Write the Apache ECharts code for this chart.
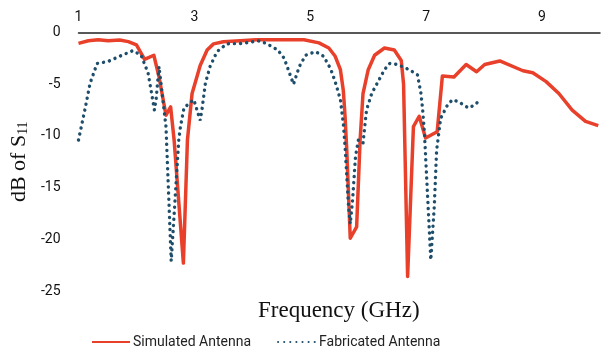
<!DOCTYPE html>
<html>
<head>
<meta charset="utf-8">
<script src="https://cdn.jsdelivr.net/npm/echarts@6/dist/echarts.min.js"></script>
<style>
html, body { margin: 0; padding: 0; background: #fff; }
#chart { width: 603px; height: 352px; }
</style>
</head>
<body>
<div id="chart"></div>
<script>
// Simulated antenna (GHz, dB)
var simFreq = [1.0, 1.17, 1.34, 1.51, 1.71, 1.86, 2.0, 2.14, 2.3, 2.39, 2.51, 2.59, 2.65, 2.81, 2.88, 2.96, 3.1, 3.22, 3.33, 3.5, 3.79, 4.07, 4.47, 4.89, 5.15, 5.32, 5.43, 5.52, 5.57, 5.6, 5.63, 5.69, 5.8, 5.86, 5.91, 6.0, 6.11, 6.28, 6.45, 6.57, 6.61, 6.68, 6.78, 6.88, 6.99, 7.19, 7.28, 7.48, 7.69, 7.87, 8.01, 8.27, 8.67, 8.84, 9.07, 9.29, 9.52, 9.75, 9.97];
var simDb = [-1.05, -0.8, -0.7, -0.8, -0.72, -0.88, -1.2, -2.6, -2.2, -4.3, -8.0, -7.2, -10.4, -22.3, -10.4, -5.9, -3.2, -1.7, -1.1, -0.9, -0.8, -0.7, -0.7, -0.7, -1.0, -1.5, -2.3, -3.6, -5.6, -8.1, -11.4, -19.9, -18.8, -10.4, -5.9, -3.6, -2.2, -1.5, -1.7, -2.7, -5.0, -23.6, -9.1, -8.1, -10.2, -9.6, -4.2, -4.3, -3.1, -3.8, -3.1, -2.75, -3.7, -3.9, -4.75, -5.9, -7.5, -8.6, -9.0];

// Fabricated antenna (GHz, dB)
var fabFreq = [1.0, 1.12, 1.2, 1.32, 1.51, 1.71, 1.94, 2.08, 2.2, 2.28, 2.31, 2.34, 2.39, 2.51, 2.6, 2.73, 2.76, 2.82, 2.9, 2.99, 3.1, 3.13, 3.19, 3.27, 3.39, 3.56, 3.84, 4.1, 4.24, 4.44, 4.55, 4.64, 4.71, 4.81, 4.92, 5.09, 5.23, 5.35, 5.43, 5.52, 5.57, 5.6, 5.66, 5.69, 5.73, 5.78, 5.83, 5.91, 5.97, 6.06, 6.17, 6.28, 6.37, 6.51, 6.71, 6.85, 6.91, 6.94, 6.97, 7.08, 7.14, 7.18, 7.25, 7.36, 7.45, 7.56, 7.73, 7.84, 7.94];
var fabDb = [-10.4, -7.2, -4.9, -3.0, -2.8, -2.3, -1.75, -2.2, -3.9, -6.5, -7.5, -6.4, -3.3, -9.1, -22.1, -10.4, -9.1, -7.3, -6.9, -6.5, -8.5, -7.5, -4.9, -3.3, -1.85, -1.1, -1.05, -0.8, -1.05, -1.7, -2.5, -3.9, -5.0, -3.3, -2.2, -1.85, -2.3, -3.5, -4.75, -6.5, -8.8, -11.0, -16.8, -18.5, -16.2, -12.0, -10.4, -10.7, -7.5, -5.9, -4.75, -3.6, -3.0, -3.1, -3.6, -4.1, -5.9, -7.5, -9.7, -22.0, -16.8, -11.4, -8.3, -7.1, -6.5, -6.7, -7.3, -7.0, -6.45];

var xTicks = [1, 3, 5, 7, 9];
var seriesNames = ['Simulated Antenna', 'Fabricated Antenna'];

function zip(a, b) {
    return a.map(function (v, i) { return [v, b[i]]; });
}

var myChart = echarts.init(document.getElementById('chart'));

var option = {
    animation: false,
    backgroundColor: '#fff',
    grid: { left: 76.5, right: -1.5, top: 32.5, bottom: 61, containLabel: false },
    title: {
        text: 'Frequency (GHz)',
        left: 258,
        top: 299,
        padding: 0,
        textStyle: { fontFamily: 'Liberation Serif', fontSize: 23, fontWeight: 'normal', color: '#111' }
    },
    legend: {
        data: seriesNames,
        bottom: -2,
        left: 86,
        itemWidth: 38,
        itemHeight: 10,
        itemGap: 26,
        itemStyle: { opacity: 0 },
        textStyle: { fontFamily: 'Roboto', fontSize: 14, color: '#222', padding: [0, 0, 0, -2] }
    },
    xAxis: {
        type: 'value',
        position: 'top',
        min: 1,
        max: 10,
        interval: 2,
        axisLine: { show: true, lineStyle: { color: '#222', width: 1.5 } },
        axisTick: { show: false },
        splitLine: { show: false },
        axisLabel: {
            color: '#111',
            fontFamily: 'Roboto',
            fontSize: 14,
            margin: 8,
            formatter: function (v) { return xTicks.indexOf(v) >= 0 ? String(v) : ''; }
        }
    },
    yAxis: {
        type: 'value',
        min: -25,
        max: 0,
        interval: 5,
        name: '{a|dB of S}{b|11}',
        nameLocation: 'middle',
        nameRotate: 90,
        nameGap: 40,
        nameTextStyle: {
            rich: {
                a: { fontFamily: 'Liberation Serif', fontSize: 22, color: '#111' },
                b: { fontFamily: 'Liberation Serif', fontSize: 14, color: '#111', verticalAlign: 'bottom', padding: [8, 0, 0, 0] }
            }
        },
        axisLine: { show: false },
        axisTick: { show: false },
        splitLine: { show: false },
        axisLabel: { color: '#111', fontFamily: 'Roboto', fontSize: 14, margin: 18 }
    },
    series: [
        {
            name: seriesNames[0],
            type: 'line',
            data: zip(simFreq, simDb),
            symbol: 'none',
            lineStyle: { color: '#E8402A', width: 3.5, join: 'round' },
            itemStyle: { color: '#E8402A' },
            z: 3
        },
        {
            name: seriesNames[1],
            type: 'line',
            data: zip(fabFreq, fabDb),
            symbol: 'none',
            lineStyle: { color: '#1F4E6B', width: 3.4, type: [0.1, 6], cap: 'round' },
            itemStyle: { color: '#1F4E6B' },
            z: 4
        }
    ]
};

myChart.setOption(option);
</script>
</body>
</html>
